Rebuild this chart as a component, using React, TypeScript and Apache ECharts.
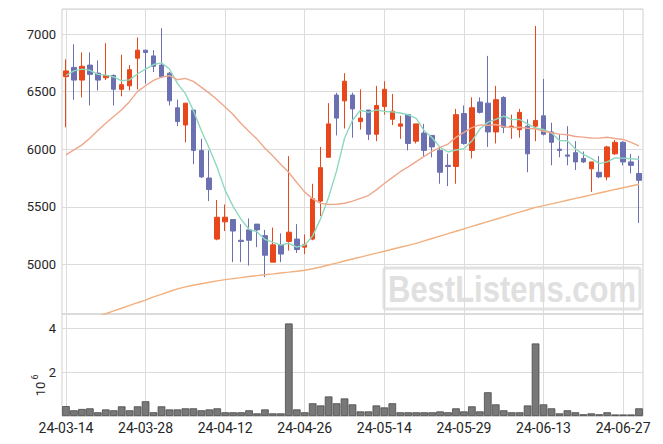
import React, { useEffect, useRef } from "react";
import * as echarts from "echarts";

const dates = [
  "24-03-14", "24-03-15", "24-03-18", "24-03-19", "24-03-20", "24-03-21", "24-03-22", "24-03-25", "24-03-26", "24-03-27",
  "24-03-28", "24-03-29", "24-04-01", "24-04-02", "24-04-03", "24-04-04", "24-04-05", "24-04-08", "24-04-09", "24-04-11",
  "24-04-12", "24-04-15", "24-04-16", "24-04-17", "24-04-18", "24-04-19", "24-04-22", "24-04-23", "24-04-24", "24-04-25",
  "24-04-26", "24-04-29", "24-04-30", "24-05-02", "24-05-03", "24-05-07", "24-05-08", "24-05-09", "24-05-10", "24-05-13",
  "24-05-14", "24-05-16", "24-05-17", "24-05-20", "24-05-21", "24-05-22", "24-05-23", "24-05-24", "24-05-27", "24-05-28",
  "24-05-29", "24-05-30", "24-05-31", "24-06-03", "24-06-04", "24-06-05", "24-06-07", "24-06-10", "24-06-11", "24-06-12",
  "24-06-13", "24-06-14", "24-06-17", "24-06-18", "24-06-19", "24-06-20", "24-06-21", "24-06-24", "24-06-25", "24-06-26",
  "24-06-27", "24-06-28", "24-07-01",
];

const opens = [
  6630, 6710, 6600, 6730, 6660, 6620, 6640, 6520, 6550, 6790,
  6860, 6810, 6730, 6660, 6360, 6210, 6340, 5990, 5750, 5220,
  5370, 5390, 5210, 5300, 5350, 5250, 5020, 5170, 5200, 5220,
  5150, 5220, 5550, 5930, 6470, 6420, 6470, 6240, 6340, 6130,
  6370, 6260, 6200, 6300, 6070, 6140, 6120, 5990, 5860, 5850,
  6310, 5990, 6410, 6400, 6150, 6450, 6190, 6170, 6200, 6200,
  6290, 6150, 6000, 5950, 5970, 5920, 5830, 5800, 5760, 5960,
  6060, 5890, 5790,
];

const closes = [
  6680, 6600, 6720, 6650, 6600, 6640, 6520, 6560, 6690, 6860,
  6840, 6720, 6630, 6420, 6240, 6400, 5990, 5760, 5650, 5410,
  5410, 5290, 5200, 5210, 5300, 5080, 5170, 5090, 5280, 5130,
  5170, 5570, 5840, 6220, 6270, 6590, 6350, 6270, 6130, 6380,
  6520, 6330, 6220, 6050, 6220, 5990, 6020, 5800, 5850, 6300,
  6050, 6360, 6320, 6150, 6430, 6190, 6200, 6320, 5960, 6250,
  6130, 6060, 5990, 5940, 5890, 5890, 5890, 5760, 6020, 6060,
  5890, 5860, 5730,
];

const lows = [
  6190, 6430, 6450, 6380, 6510, 6600, 6380, 6460, 6510, 6520,
  6570, 6670, 6620, 6380, 6200, 6060, 5870, 5750, 5550, 5210,
  5290, 5020, 5020, 4990, 5150, 4890, 5020, 5020, 5120, 5100,
  5090, 5210, 5420, 5930, 6120, 6180, 6100, 6170, 6080, 6070,
  6300, 6210, 6090, 5990, 6050, 5940, 5930, 5700, 5680, 5700,
  6040, 5920, 6310, 6020, 6050, 6140, 6090, 6100, 5800, 6070,
  6120, 5860, 5930, 5860, 5820, 5880, 5630, 5750, 5730, 5950,
  5860, 5790, 5360,
];

const highs = [
  6780, 6910, 6840, 6840, 6770, 6920, 6650, 6820, 6730, 6970,
  6860, 6860, 7050, 6670, 6430, 6400, 6340, 6090, 5990, 5560,
  5520, 5390, 5350, 5400, 5350, 5300, 5320, 5270, 5940, 5350,
  5260, 5700, 6020, 6400, 6490, 6660, 6490, 6520, 6340, 6550,
  6590, 6480, 6290, 6300, 6220, 6220, 6120, 6020, 5960, 6350,
  6380, 6450, 6450, 6810, 6550, 6460, 6300, 6350, 6260, 7070,
  6610, 6230, 6130, 6200, 6070, 5980, 5890, 5940, 6030, 6080,
  6070, 5960, 5940,
];

const volumes = [
  450000, 260000, 320000, 350000, 170000, 300000, 260000, 440000, 260000, 440000,
  670000, 170000, 440000, 300000, 300000, 350000, 350000, 260000, 300000, 350000,
  170000, 170000, 170000, 260000, 120000, 300000, 120000, 120000, 4210000, 300000,
  170000, 580000, 480000, 890000, 580000, 800000, 530000, 210000, 210000, 480000,
  390000, 580000, 170000, 170000, 170000, 170000, 170000, 210000, 170000, 350000,
  210000, 440000, 210000, 1080000, 530000, 260000, 170000, 170000, 480000, 3300000,
  530000, 350000, 120000, 260000, 170000, 80000, 120000, 80000, 170000, 70000,
  70000, 70000, 350000,
];

const ma5 = [
  6640, 6680, 6695, 6685, 6650, 6643, 6627, 6594, 6602, 6655,
  6695, 6735, 6749, 6696, 6571, 6483, 6337, 6163, 6008, 5841,
  5643, 5504, 5391, 5305, 5283, 5217, 5192, 5169, 5184, 5150,
  5169, 5248, 5398, 5584, 5812, 6095, 6251, 6338, 6320, 6342,
  6328, 6324, 6314, 6299, 6267, 6161, 6100, 6016, 5976, 5993,
  6004, 6071, 6175, 6233, 6259, 6288, 6257, 6258, 6220, 6184,
  6171, 6142, 6076, 6073, 6003, 5956, 5921, 5875, 5890, 5924,
  5923, 5917, 5912,
];

const ma20 = [
  5951, 5994, 6038, 6096, 6162, 6226, 6284, 6342, 6415, 6502,
  6551, 6597, 6626, 6638, 6603, 6615, 6589, 6539, 6487, 6429,
  6366, 6301, 6224, 6153, 6088, 6009, 5942, 5868, 5798, 5711,
  5628, 5570, 5530, 5520, 5522, 5531, 5549, 5574, 5598, 5647,
  5702, 5754, 5805, 5847, 5893, 5938, 5981, 6016, 6045, 6103,
  6147, 6187, 6211, 6207, 6215, 6195, 6188, 6191, 6182, 6176,
  6156, 6143, 6131, 6126, 6110, 6105, 6098, 6096, 6104, 6093,
  6085, 6060, 6030,
];

const ma60 = [
  4450, 4475, 4500, 4525, 4548, 4572, 4597, 4620, 4645, 4668,
  4690, 4718, 4740, 4765, 4788, 4805, 4820, 4833, 4845, 4857,
  4868, 4877, 4886, 4895, 4903, 4911, 4918, 4926, 4933, 4941,
  4950, 4963, 4978, 4995, 5012, 5030, 5047, 5064, 5081, 5098,
  5115, 5132, 5149, 5166, 5183, 5204, 5225, 5246, 5267, 5288,
  5309, 5330, 5351, 5372, 5392, 5413, 5434, 5454, 5475, 5495,
  5510, 5526, 5541, 5557, 5573, 5588, 5604, 5620, 5635, 5651,
  5666, 5681, 5696,
];

const volumeScaleLabel = "10";
const volumeScaleExp = "6";
const watermarkText = "BestListens.com";

export default function App() {
  const ref = useRef<HTMLDivElement>(null);

  useEffect(() => {
    if (!ref.current) return;
    const chart = echarts.init(ref.current, null, { renderer: "svg" });
    const font = "Roboto";
    const gridColor = "#dcdcdc";
    const labelColor = "#262626";
    const upColor = "#e8471b";
    const downColor = "#6b70b1";

    const candleData = dates.map((_, i) => [opens[i], closes[i], lows[i], highs[i]]);

    const makeX = (gridIndex: number, showLabels: boolean) => ({
      type: "category",
      gridIndex,
      data: dates,
      boundaryGap: true,
      axisLine: { show: false },
      axisTick: { show: false },
      axisLabel: {
        show: showLabels,
        interval: 9,
        color: labelColor,
        fontSize: 14,
        fontFamily: font,
        margin: 5,
      },
      splitLine: {
        show: true,
        interval: 9,
        alignWithLabel: true,
        lineStyle: { color: gridColor, width: 1 },
      },
    });

    chart.setOption({
      animation: false,
      backgroundColor: "#ffffff",
      textStyle: { fontFamily: font },
      grid: [
        { left: 62, right: 20, top: 9, height: 305, show: true, borderColor: "#cfcfcf", borderWidth: 1 },
        { left: 62, right: 20, top: 314, height: 102, show: true, borderColor: "#cfcfcf", borderWidth: 1 },
      ],
      xAxis: [makeX(0, false), makeX(1, true)],
      yAxis: [
        {
          type: "value",
          gridIndex: 0,
          min: 4570,
          max: 7217,
          axisLine: { show: false },
          axisTick: { show: false },
          axisLabel: {
            color: labelColor,
            fontSize: 13,
            fontFamily: font,
            margin: 6,
            showMinLabel: false,
            showMaxLabel: false,
            formatter: (v: number) => String(v),
          },
          splitLine: { lineStyle: { color: gridColor, width: 1 } },
        },
        {
          type: "value",
          gridIndex: 1,
          min: 0,
          max: 4640000,
          interval: 2000000,
          axisLine: { show: false },
          axisTick: { show: false },
          axisLabel: {
            color: labelColor,
            fontSize: 13,
            fontFamily: font,
            margin: 6,
            showMinLabel: false,
            showMaxLabel: false,
            formatter: (v: number) => (v === 0 ? "" : String(v / 1000000)),
          },
          splitLine: { lineStyle: { color: gridColor, width: 1 } },
        },
      ],
      series: [
        {
          type: "candlestick",
          xAxisIndex: 0,
          yAxisIndex: 0,
          data: candleData,
          barWidth: 5,
          itemStyle: {
            color: upColor,
            color0: downColor,
            borderColor: upColor,
            borderColor0: downColor,
            borderWidth: 1,
          },
        },
        {
          type: "line",
          xAxisIndex: 0,
          yAxisIndex: 0,
          data: ma5,
          symbol: "none",
          clip: true,
          lineStyle: { color: "#8ed8be", width: 1.4 },
        },
        {
          type: "line",
          xAxisIndex: 0,
          yAxisIndex: 0,
          data: ma20,
          symbol: "none",
          clip: true,
          lineStyle: { color: "#efa78b", width: 1.4 },
        },
        {
          type: "line",
          xAxisIndex: 0,
          yAxisIndex: 0,
          data: ma60,
          symbol: "none",
          clip: true,
          lineStyle: { color: "#f1b07e", width: 1.4 },
        },
        {
          type: "bar",
          xAxisIndex: 1,
          yAxisIndex: 1,
          data: volumes,
          barCategoryGap: "4%",
          itemStyle: { color: "#787878", borderColor: "#4a4a4a", borderWidth: 0.8 },
        },
      ],
      graphic: [
        {
          type: "group",
          silent: true,
          children: [
            {
              type: "rect",
              shape: { x: 384, y: 268, width: 256, height: 41, r: 2 },
              style: { fill: "rgba(255,255,255,0)", stroke: "#e2e2e2", lineWidth: 3 },
            },
            {
              type: "text",
              x: 512,
              y: 289,
              scaleY: 1.18,
              style: {
                text: watermarkText,
                fill: "#e0e0e0",
                font: "bold 31px 'Liberation Sans', Arial, sans-serif",
                textAlign: "center",
                textVerticalAlign: "middle",
              },
            },
          ],
        },
        {
          type: "text",
          x: 40,
          y: 389,
          rotation: Math.PI / 2,
          style: {
            text: volumeScaleLabel,
            fill: labelColor,
            font: "13px Roboto",
            textAlign: "center",
            textVerticalAlign: "middle",
          },
        },
        {
          type: "text",
          x: 35,
          y: 377,
          rotation: Math.PI / 2,
          style: {
            text: volumeScaleExp,
            fill: labelColor,
            font: "9px Roboto",
            textAlign: "center",
            textVerticalAlign: "middle",
          },
        },
      ],
    });

    return () => {
      chart.dispose();
    };
  }, []);

  return (
    <div
      ref={ref}
      style={{ position: "fixed", left: 0, top: 0, width: 663, height: 444, background: "#fff" }}
    />
  );
}
